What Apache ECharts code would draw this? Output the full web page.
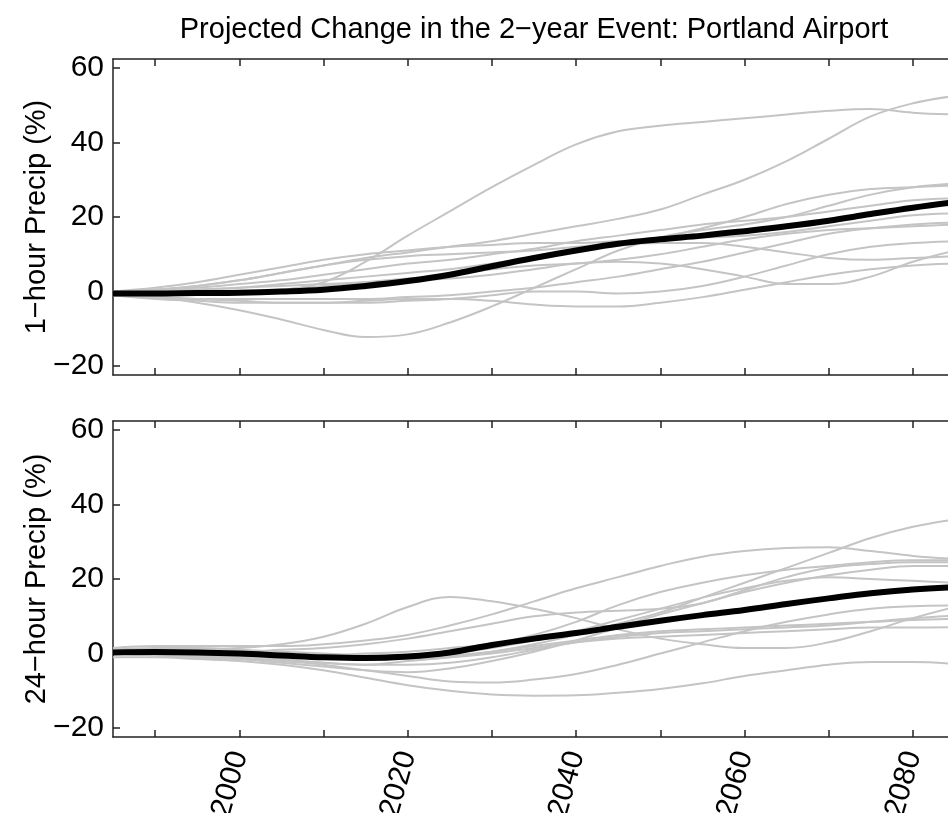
<!DOCTYPE html>
<html>
<head>
<meta charset="utf-8">
<script src="https://cdn.jsdelivr.net/npm/echarts@6/dist/echarts.min.js"></script>
<style>html,body{margin:0;padding:0;background:#fff}#c{width:948px;height:813px}</style>
</head>
<body>
<div id="c"></div>
<script>
const titleText = 'Projected Change in the 2\u2212year Event: Portland Airport';
const yNameTop = '1\u2212hour Precip (%)';
const yNameBottom = '24\u2212hour Precip (%)';
const years = [1985,1990,1995,2000,2005,2010,2015,2020,2025,2030,2035,2040,2045,2050,2055,2060,2065,2070,2075,2080,2085];
const xTickValues = [1990,2000,2010,2020,2030,2040,2050,2060,2070,2080];
const xLabelValues = [2000,2020,2040,2060,2080];
const yTickValues = [-20,0,20,40,60];

// 1-hour precip, model runs (%)
const h1_m1  = [-1,-1,-0.5,0,0.5,2.5,8,15,21.5,28,34,39.5,43,44.5,45.5,46.5,47.5,48.5,49,48,47.5];
const h1_m2  = [0,0.5,1.5,3,5,7,9,10.5,12,13.5,15.5,17.5,19.5,22,26,30,35,41,47,50.5,52.5];
const h1_m3  = [-1,-1.5,-3,-5,-7.5,-10.3,-12.2,-11.5,-8.3,-4,1,6,11,14.5,16.5,18,20,23,26,28,29];
const h1_m4  = [0,1,2.5,4.5,6.5,8.5,10,11,12,12.5,13,13,13.5,14,14.5,15,16,17.5,19,20.5,21];
const h1_m5  = [0,0.5,1.5,3,5,7,8.5,9.5,10,10.5,11,12,13,14.5,17,20,23.5,26,27.5,28,28.5];
const h1_m6  = [-0.5,0,0.5,1,2,3,4,5,6,7.5,9,11,12.5,13,13,12,10.5,9,8.5,9,9.5];
const h1_m7  = [-1,-1.5,-2,-2,-2,-2,-2,-1.5,-1,0,1,2.5,4,6,8,10.5,13,15.5,17,18,18.5];
const h1_m8  = [-1,-1.5,-2,-2.5,-3,-3,-3,-2.5,-2,-1,0,0,-0.5,0,1.5,4,7,10,12,13,13.5];
const h1_m9  = [-1,-2,-2.5,-3,-3,-3,-2.5,-2,-2,-2.5,-3.5,-4,-4,-3,-1.5,0.5,2.5,4.5,6,7,7.5];
const h1_m10 = [0,0,0.5,1,1.5,2,2.5,3,3.5,4.5,6,7.5,8,7.5,6,4,2,2,4,8,11];
const h1_m11 = [-0.5,-0.5,-0.5,0,0.5,1.5,2.5,3.5,4.5,6,7,7.5,8.5,10,12,14,15.5,16.5,17,17.5,18];
const h1_m12 = [0,0.5,1,2,3,4.5,6,7.5,8.5,10,11.5,13.5,15,16.5,18,19,20,21.5,23,24.5,25];
const h1_mean = [-0.5,-0.5,-0.4,-0.3,0,0.5,1.5,2.8,4.5,6.8,9,11,12.8,14,15,16.2,17.5,19,20.8,22.5,24];

// 24-hour precip, model runs (%)
const h24_m1  = [0,-0.5,-1,-1.5,-2,-2.5,-3,-2,-1,0.5,2.5,5,8,11,15,19,23,27,31,34,36];
const h24_m2  = [1.5,2,2,2,2,2.5,3.5,5,7.5,10.5,14,17.5,20.5,23.5,26,27.5,28.3,28.5,27.5,26.2,25.4];
const h24_m3  = [1,1,1.2,1.5,2.5,4.5,8,12.5,15.2,14,12,9.5,6.5,4,2.5,1.5,1.5,3,6,9.5,12.5];
const h24_m4  = [1,1,0.5,0.5,1,1.5,2.5,4,6,8,10,11,11.5,12,13.5,17,20.5,23,24,24.5,24.5];
const h24_m5  = [0,-0.5,-1,-1.5,-2.5,-3.5,-4.5,-5,-4,-2,0.5,3.5,7,10.5,13.5,16.5,19,21,22.5,23.5,23.5];
const h24_m6  = [0.5,0.5,0,-0.5,-1.5,-2.5,-3,-3,-2.5,-1,1,3,4.5,5.5,6,6.5,7,7.5,8.5,9.5,10.2];
const h24_m7  = [1,1.5,1.5,1,0.5,0,-0.5,-1,-0.5,0.5,2,3.5,5,6,6.5,7,7.5,8,8.5,9,9.3];
const h24_m8  = [0.5,0.5,0.5,0,-0.5,-1,-1.5,-1.5,-1,0,1.5,3,4,4.5,5,5.5,6,6.5,7,7,7.1];
const h24_m9  = [-1,-1,-1.5,-2,-3,-4.5,-6.5,-8.5,-10,-11,-11.3,-11.2,-10.5,-9.5,-8,-6,-4.5,-3,-2.3,-2.3,-2.8];
const h24_m10 = [0,0,-0.5,-1,-2,-3,-4.5,-6,-7.5,-7.8,-7,-5.5,-3,0,3,6,8.5,10.5,12,12.7,12.9];
const h24_m11 = [0,0,0,-0.5,-0.5,-0.5,0,0.5,1.5,2.5,5,8.5,13,16.5,19,21,22.5,23.5,24.5,25,25];
const h24_m12 = [0.5,0.5,0,-0.5,-1,-1.5,-1.5,-1,0,1.5,3.5,6,9,12,15,17.5,19.5,20.5,20,19.5,19];
const h24_mean = [0.3,0.4,0.3,0,-0.5,-1,-1.2,-0.8,0.3,2.3,4,5.5,7.2,8.8,10.3,11.7,13.3,14.8,16.2,17.2,17.8];

const topRuns = [h1_m1,h1_m2,h1_m3,h1_m4,h1_m5,h1_m6,h1_m7,h1_m8,h1_m9,h1_m10,h1_m11,h1_m12];
const botRuns = [h24_m1,h24_m2,h24_m3,h24_m4,h24_m5,h24_m6,h24_m7,h24_m8,h24_m9,h24_m10,h24_m11,h24_m12];

const FONT = "'Liberation Sans', Arial, Helvetica, sans-serif";
const pair = arr => arr.map((v, i) => [years[i], v]);
const minus = v => (v < 0 ? '\u2212' + Math.abs(v) : String(v));

const axisLineStyle = { show: true, onZero: false, lineStyle: { color: '#222', width: 1.5 } };
const tickStyle = { show: true, inside: true, length: 7, lineStyle: { color: '#222', width: 1.5 } };

function xAxis(gridIndex, position, withLabels) {
  return {
    type: 'value', gridIndex, position, min: 1985, max: 2085,
    axisLine: axisLineStyle, splitLine: { show: false },
    axisTick: Object.assign({ customValues: xTickValues }, tickStyle),
    axisLabel: withLabels ? {
      show: true, customValues: xLabelValues, rotate: 74, margin: 15, padding: [8, 0, 0, 0],
      hideOverlap: false,
      fontSize: 30, fontFamily: FONT, color: '#000', formatter: v => String(v)
    } : { show: false }
  };
}
function yAxis(gridIndex, position, withLabels) {
  return {
    type: 'value', gridIndex, position, min: -22.4, max: 62.4,
    axisLine: axisLineStyle, splitLine: { show: false },
    axisTick: Object.assign({ customValues: yTickValues }, tickStyle),
    axisLabel: withLabels ? {
      show: true, customValues: yTickValues, margin: 9,
      fontSize: 30, fontFamily: FONT, color: '#000', formatter: minus
    } : { show: false }
  };
}

const series = [];
function addPanel(runs, mean, axisIdx) {
  runs.forEach((r, k) => series.push({
    type: 'line', name: 'run' + (k + 1), xAxisIndex: axisIdx, yAxisIndex: axisIdx,
    data: pair(r), smooth: 0.4, showSymbol: false, symbol: 'none',
    lineStyle: { color: '#c4c4c4', width: 2 }, z: 2
  }));
  series.push({
    type: 'line', name: 'mean', xAxisIndex: axisIdx, yAxisIndex: axisIdx,
    data: pair(mean), smooth: 0.4, showSymbol: false, symbol: 'none',
    lineStyle: { color: '#000', width: 6 }, z: 3
  });
}
addPanel(topRuns, h1_mean, 0);
addPanel(botRuns, h24_mean, 2);

const chart = echarts.init(document.getElementById('c'), null, { renderer: 'canvas' });
chart.setOption({
  animation: false,
  backgroundColor: '#fff',
  title: {
    text: titleText, left: 534, top: 15, padding: 0, textAlign: 'center',
    textStyle: { fontSize: 29, fontWeight: 'normal', fontFamily: FONT, color: '#000' }
  },
  grid: [
    { left: 113, top: 59, right: -7, height: 316, containLabel: false, outerBoundsMode: 'none' },
    { left: 113, top: 421, right: -7, height: 316, containLabel: false, outerBoundsMode: 'none' }
  ],
  xAxis: [xAxis(0, 'bottom', false), xAxis(0, 'top', false), xAxis(1, 'bottom', true), xAxis(1, 'top', false)],
  yAxis: [yAxis(0, 'left', true), yAxis(0, 'right', false), yAxis(1, 'left', true), yAxis(1, 'right', false)],
  graphic: [
    { type: 'text', x: 37, y: 217, rotation: Math.PI / 2,
      style: { text: yNameTop, font: '29px ' + FONT, fill: '#000', textAlign: 'center', textVerticalAlign: 'middle' } },
    { type: 'text', x: 37, y: 579, rotation: Math.PI / 2,
      style: { text: yNameBottom, font: '29px ' + FONT, fill: '#000', textAlign: 'center', textVerticalAlign: 'middle' } }
  ],
  series
});
</script>
</body>
</html>
